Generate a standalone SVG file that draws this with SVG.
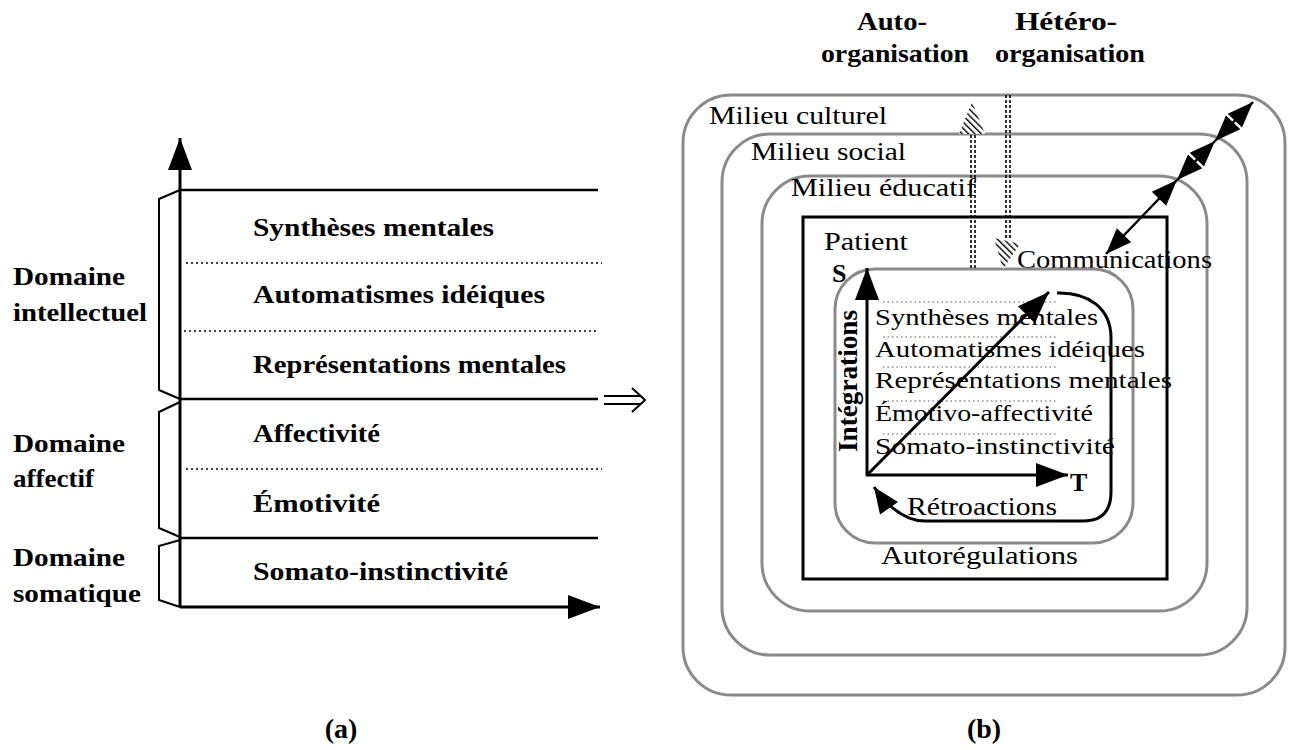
<svg xmlns="http://www.w3.org/2000/svg" width="1289" height="750" viewBox="0 0 1289 750">
<style>
text{font-family:"Liberation Serif","Times New Roman",serif;fill:#000}
.b{font-weight:bold}
.lt{font-size:26px;font-weight:bold}
.rt{font-size:25px}
.it{font-size:23px}
.ax{stroke:#000;stroke-width:3;fill:none}
.hl{stroke:#000;stroke-width:2.5;fill:none}
.dot{stroke:#000;stroke-width:1.4;stroke-dasharray:2 3;fill:none}
.idot{stroke:#555;stroke-width:1.2;stroke-dasharray:1.5 3;fill:none}
.br{stroke:#000;stroke-width:2;fill:none}
.ring{stroke:#8a8a8a;stroke-width:3;fill:none}
.dd{stroke:#000;stroke-width:1.6;stroke-dasharray:3 2;fill:none}
.cm{stroke:#000;stroke-width:2.5;fill:none}
</style>
<defs>
<marker id="bigHead" markerUnits="userSpaceOnUse" markerWidth="34" markerHeight="26" refX="32" refY="12" orient="auto" overflow="visible">
<path d="M0,0 L32,12 L0,24 z" fill="#000"/>
</marker>
<marker id="commHead" markerUnits="userSpaceOnUse" markerWidth="28" markerHeight="22" refX="26" refY="10" orient="auto-start-reverse" overflow="visible">
<path d="M0,0 L26,10 L0,20 z" fill="#000"/>
</marker>
<marker id="retroHead" markerUnits="userSpaceOnUse" markerWidth="28" markerHeight="24" refX="26" refY="11" orient="auto" overflow="visible">
<path d="M0,0 L26,11 L0,22 z" fill="#000"/>
</marker>
<pattern id="hatch" patternUnits="userSpaceOnUse" width="4.5" height="4.5" patternTransform="rotate(-45)">
<rect width="4.5" height="4.5" fill="#fff"/>
<line x1="0" y1="0" x2="0" y2="4.5" stroke="#000" stroke-width="2.8"/>
</pattern>
</defs>
<rect width="1289" height="750" fill="#fff"/>

<!-- (a) -->
<g id="panel-a">
<g id="a-axes">
<line class="ax" x1="180" y1="607" x2="180" y2="138" marker-end="url(#bigHead)"/>
<line class="ax" x1="180" y1="607" x2="600" y2="607" marker-end="url(#bigHead)"/>
<line class="hl" x1="180" y1="190" x2="598" y2="190"/>
<line class="hl" x1="180" y1="399" x2="598" y2="399"/>
<line class="hl" x1="180" y1="538" x2="598" y2="538"/>
<line class="dot" x1="186" y1="263" x2="602" y2="263"/>
<line class="dot" x1="184" y1="331" x2="598" y2="331"/>
<line class="dot" x1="186" y1="469" x2="602" y2="469"/>
<polyline class="br" points="180,190 159,199 159,390 180,399"/>
<polyline class="br" points="180,402 159,412 159,528 180,537"/>
<polyline class="br" points="180,540 159,546 159,600 180,607"/>
</g>
<g id="a-levels">
<text class="lt" x="253" y="236" textLength="241" lengthAdjust="spacingAndGlyphs">Synthèses mentales</text>
<text class="lt" x="253" y="303" textLength="292" lengthAdjust="spacingAndGlyphs">Automatismes idéiques</text>
<text class="lt" x="253" y="373" textLength="313" lengthAdjust="spacingAndGlyphs">Représentations mentales</text>
<text class="lt" x="253" y="442" textLength="127" lengthAdjust="spacingAndGlyphs">Affectivité</text>
<text class="lt" x="253" y="512" textLength="127" lengthAdjust="spacingAndGlyphs">Émotivité</text>
<text class="lt" x="253" y="580" textLength="255" lengthAdjust="spacingAndGlyphs">Somato-instinctivité</text>
</g>
<g id="a-domains">
<text class="lt" x="13" y="285" textLength="112" lengthAdjust="spacingAndGlyphs">Domaine</text>
<text class="lt" x="13" y="321" textLength="134" lengthAdjust="spacingAndGlyphs">intellectuel</text>
<text class="lt" x="13" y="452" textLength="112" lengthAdjust="spacingAndGlyphs">Domaine</text>
<text class="lt" x="13" y="487" textLength="81" lengthAdjust="spacingAndGlyphs">affectif</text>
<text class="lt" x="13" y="566" textLength="112" lengthAdjust="spacingAndGlyphs">Domaine</text>
<text class="lt" x="13" y="602" textLength="128" lengthAdjust="spacingAndGlyphs">somatique</text>
</g>
<text id="label-a" class="b" x="341" y="738" font-size="28" text-anchor="middle">(a)</text>
</g>

<!-- implies arrow -->
<g id="implies">
<line x1="604" y1="396" x2="640" y2="396" stroke="#000" stroke-width="2"/>
<line x1="604" y1="404" x2="640" y2="404" stroke="#000" stroke-width="2"/>
<polyline points="632,388 645,400 632,412" stroke="#000" stroke-width="2" fill="none"/>
</g>

<!-- (b) -->
<g id="panel-b">
<g id="milieu-culturel">
<rect class="ring" x="683" y="95" width="602" height="600" rx="48" ry="48"/>
<text class="rt" x="709" y="124" textLength="178" lengthAdjust="spacingAndGlyphs">Milieu culturel</text>
</g>
<g id="milieu-social">
<rect class="ring" x="722" y="134" width="525" height="521" rx="48" ry="48"/>
<text class="rt" x="751" y="160" textLength="155" lengthAdjust="spacingAndGlyphs">Milieu social</text>
</g>
<g id="milieu-educatif">
<rect class="ring" x="762" y="176" width="445" height="435" rx="48" ry="48"/>
<text class="rt" x="791" y="196" textLength="185" lengthAdjust="spacingAndGlyphs">Milieu éducatif</text>
</g>
<g id="patient">
<rect x="803" y="217" width="364" height="362" fill="none" stroke="#000" stroke-width="3"/>
<text class="rt" x="824" y="250" textLength="84" lengthAdjust="spacingAndGlyphs">Patient</text>
<text class="rt" x="1017" y="268" textLength="195" lengthAdjust="spacingAndGlyphs">Communications</text>
</g>
<g id="autoregulations">
<rect class="ring" x="835" y="269" width="298" height="274" rx="40" ry="40"/>
<text class="rt" x="881" y="564" textLength="197" lengthAdjust="spacingAndGlyphs">Autorégulations</text>
</g>
<g id="levels-b">
<line class="idot" x1="883" y1="302" x2="1057" y2="302"/>
<line class="idot" x1="883" y1="337" x2="1057" y2="337"/>
<line class="idot" x1="883" y1="367" x2="1057" y2="367"/>
<line class="idot" x1="883" y1="401" x2="1057" y2="401"/>
<line class="idot" x1="883" y1="434" x2="1057" y2="434"/>
<text class="it" x="875" y="325" textLength="223" lengthAdjust="spacingAndGlyphs">Synthèses mentales</text>
<text class="it" x="875" y="357" textLength="270" lengthAdjust="spacingAndGlyphs">Automatismes idéiques</text>
<text class="it" x="875" y="388" textLength="297" lengthAdjust="spacingAndGlyphs">Représentations mentales</text>
<text class="it" x="875" y="421" textLength="218" lengthAdjust="spacingAndGlyphs">Émotivo-affectivité</text>
<text class="it" x="875" y="454" textLength="240" lengthAdjust="spacingAndGlyphs">Somato-instinctivité</text>
</g>
<text id="label-integrations" class="b" font-size="28" transform="translate(857,452) rotate(-90)" textLength="142" lengthAdjust="spacingAndGlyphs">Intégrations</text>
<text id="label-S" class="b" font-size="26" x="832" y="282">S</text>
<text id="label-T" class="b" font-size="26" x="1070" y="491">T</text>
<text id="label-retro" class="rt" x="907" y="515" textLength="150" lengthAdjust="spacingAndGlyphs">Rétroactions</text>
<g id="top-labels">
<text class="lt" x="857" y="30" textLength="70" lengthAdjust="spacingAndGlyphs">Auto-</text>
<text class="lt" x="821" y="62" textLength="148" lengthAdjust="spacingAndGlyphs">organisation</text>
<text class="lt" x="1015" y="30" textLength="102" lengthAdjust="spacingAndGlyphs">Hétéro-</text>
<text class="lt" x="995" y="62" textLength="150" lengthAdjust="spacingAndGlyphs">organisation</text>
</g>
<text id="label-b" class="b" x="984" y="738" font-size="28" text-anchor="middle">(b)</text>
</g>

<g id="connectors">
<line class="ax" stroke-width="3.5" x1="867" y1="476" x2="867" y2="268" marker-end="url(#bigHead)"/>
<line class="ax" stroke-width="3.5" x1="866" y1="475" x2="1068" y2="475" marker-end="url(#bigHead)"/>
<line class="ax" x1="867" y1="475" x2="1049" y2="292" marker-end="url(#bigHead)"/>
<path class="ax" d="M1057,293 C1088,292 1111,308 1111,338 L1111,492 Q1111,521 1083,521 L925,521 Q898,521 874,487" marker-end="url(#retroHead)"/>
<line class="cm" x1="1253" y1="102" x2="1215" y2="141" marker-start="url(#commHead)" marker-end="url(#commHead)"/>
<line class="cm" x1="1215" y1="141" x2="1177" y2="180" marker-start="url(#commHead)" marker-end="url(#commHead)"/>
<line class="cm" x1="1177" y1="180" x2="1106" y2="254" marker-start="url(#commHead)" marker-end="url(#commHead)"/>
<g id="auto-org-arrow">
<line class="dd" x1="971" y1="268" x2="971" y2="132"/>
<line class="dd" x1="975" y1="268" x2="975" y2="132"/>
<polygon points="972,102 985,134 959,134" fill="url(#hatch)"/>
</g>
<g id="hetero-org-arrow">
<line class="dd" x1="1006" y1="95" x2="1006" y2="240"/>
<line class="dd" x1="1010" y1="95" x2="1010" y2="240"/>
<polygon points="994,238 1020,244 1003,269" fill="url(#hatch)"/>
</g>
</g>
</svg>
